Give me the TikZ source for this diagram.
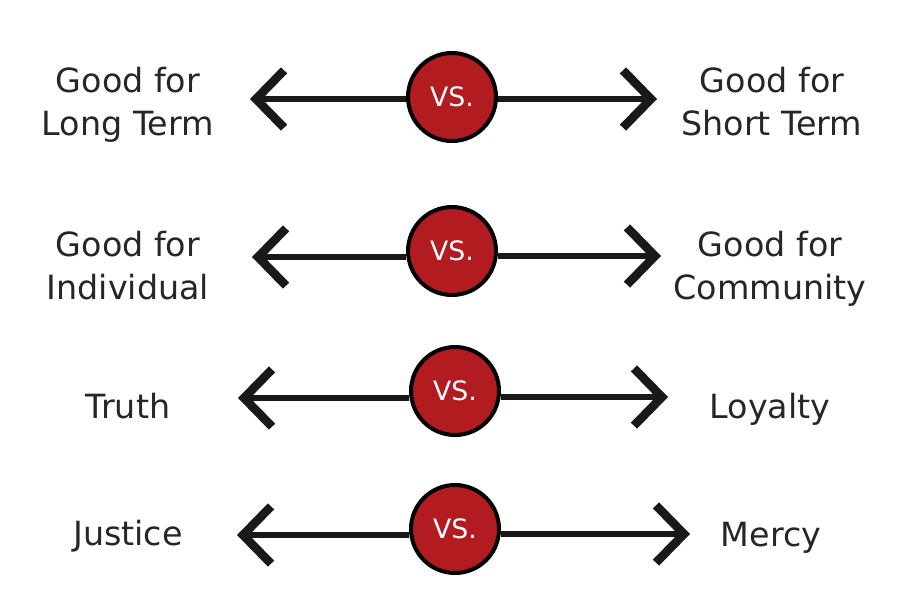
\documentclass[tikz,border=0pt]{standalone}
\usepackage{fontspec}
\setmainfont{DejaVu Sans}
\usepackage{tikz}
\usetikzlibrary{arrows.meta}
\definecolor{vsred}{RGB}{178,28,32}
\definecolor{inkgray}{RGB}{38,38,38}
\tikzset{
  vsdot/.style={circle, draw=black, line width=3pt, fill=vsred, minimum size=66pt, inner sep=0pt, text=white, font=\fontsize{20}{20}\selectfont},
  shaft/.style={line width=4.8pt, draw=black!90},
  headtip/.style={-{Straight Barb[length=21pt, width=43pt, line width=6.5pt]}},
  choice/.style={align=center, anchor=base, inner sep=0pt, text=inkgray, font=\fontsize{25}{32}\selectfont}
}
\begin{document}
\begin{tikzpicture}[x=0.75pt,y=0.75pt,yscale=-1,xscale=1]
%set diagram size to the 906 x 590 page
\useasboundingbox (0,0) rectangle (906,590);

%Row 1: long term vs short term
\coordinate (lA) at (250,99);
\coordinate (rA) at (657,99);
\node [vsdot] (vsA) at (452,97) {VS.};
\draw [shaft,headtip] (vsA.west |- lA) -- (lA);
\draw [shaft,headtip] (vsA.east |- rA) -- (rA);
\node [choice] (longterm) at (128,135) {Good for\\Long Term};
\node [choice] (shortterm) at (772,135) {Good for\\Short Term};

%Row 2: individual vs community
\coordinate (lB) at (252,257);
\coordinate (rB) at (661,256);
\node [vsdot] (vsB) at (452,251) {VS.};
\draw [shaft,headtip] (vsB.west |- lB) -- (lB);
\draw [shaft,headtip] (vsB.east |- rB) -- (rB);
\node [choice] (individual) at (128,299) {Good for\\Individual};
\node [choice] (community) at (770,299) {Good for\\Community};

%Row 3: truth vs loyalty
\coordinate (lC) at (238,398);
\coordinate (rC) at (668,397);
\node [vsdot] (vsC) at (455,391) {VS.};
\draw [shaft,headtip] (vsC.west |- lC) -- (lC);
\draw [shaft,headtip] (vsC.east |- rC) -- (rC);
\node [choice] (truth) at (128,418) {Truth};
\node [choice] (loyalty) at (770,418) {Loyalty};

%Row 4: justice vs mercy
\coordinate (lD) at (237,535);
\coordinate (rD) at (690,534);
\node [vsdot] (vsD) at (455,529) {VS.};
\draw [shaft,headtip] (vsD.west |- lD) -- (lD);
\draw [shaft,headtip] (vsD.east |- rD) -- (rD);
\node [choice] (justice) at (128,545) {Justice};
\node [choice] (mercy) at (771,546) {Mercy};

\end{tikzpicture}
\end{document}
